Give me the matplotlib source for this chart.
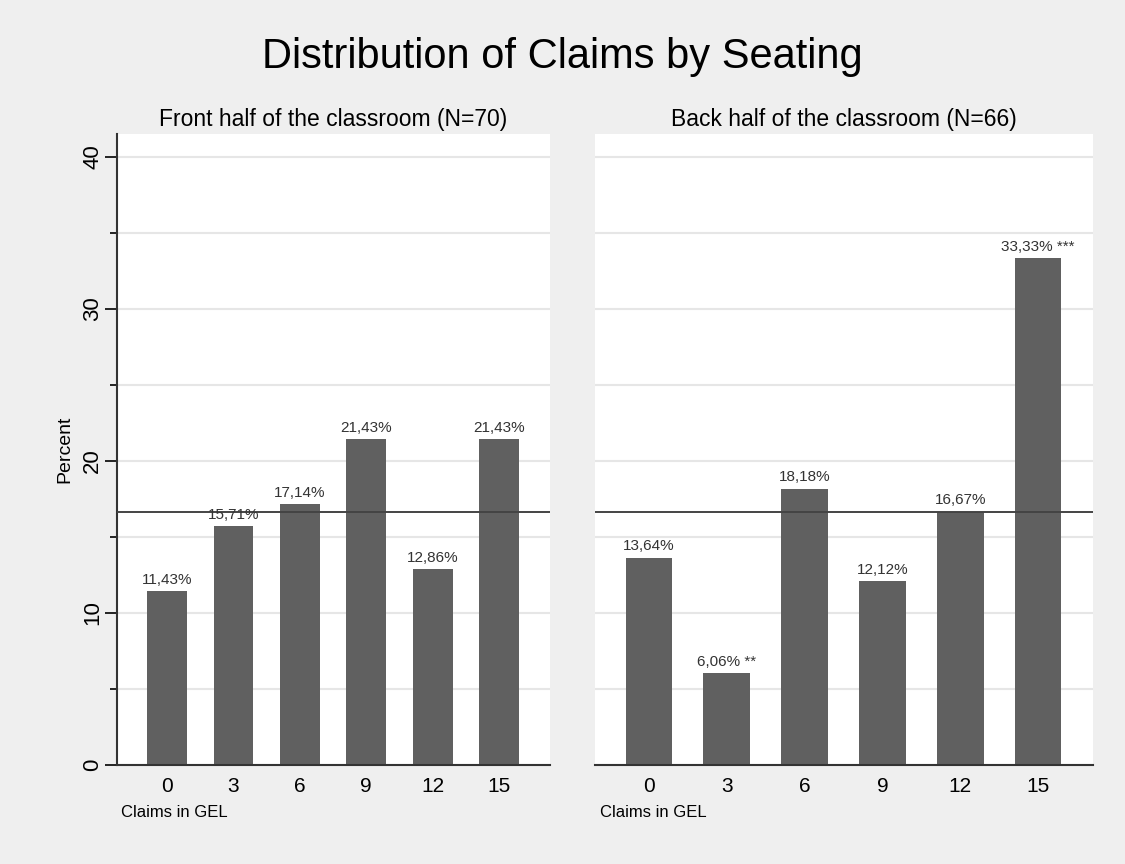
import matplotlib.pyplot as plt
from matplotlib.ticker import MultipleLocator

plt.rcParams["font.family"] = ["Liberation Sans", "DejaVu Sans"]

claims = [0, 3, 6, 9, 12, 15]
front_pct = [11.43, 15.71, 17.14, 21.43, 12.86, 21.43]
back_pct = [13.64, 6.06, 18.18, 12.12, 16.67, 33.33]
back_stars = ["", "**", "", "", "", "***"]
front_title = "Front half of the classroom (N=70)"
back_title = "Back half of the classroom (N=66)"
ref_line = 100 / 6

BG = "#efefef"
BAR = "#606060"

fig = plt.figure(figsize=(11.25, 8.64), dpi=100, facecolor=BG)
ax_l = fig.add_axes([0.104, 0.1146, 0.3849, 0.7303])
ax_r = fig.add_axes([0.5289, 0.1146, 0.4427, 0.7303])

panels = [
    (ax_l, front_pct, [""] * 6, front_title, (-2.26, 17.3)),
    (ax_r, back_pct, back_stars, back_title, (-2.08, 17.12)),
]

for ax, vals, stars, title, xlim in panels:
    ax.set_facecolor("white")
    ax.set_xlim(*xlim)
    ax.set_ylim(0, 41.5)
    ax.yaxis.set_major_locator(MultipleLocator(10))
    ax.yaxis.set_minor_locator(MultipleLocator(5))
    ax.grid(True, which="both", axis="y", color="#e6e6e6", linewidth=1.5, zorder=0)
    ax.set_axisbelow(True)
    ax.bar(claims, vals, width=1.8, color=BAR, zorder=2)
    ax.axhline(ref_line, color="#444444", linewidth=1.4, zorder=3)
    for x, v, s in zip(claims, vals, stars):
        lab = f"{v:.2f}".replace(".", ",") + "%"
        if s:
            lab += " " + s
        ax.annotate(lab, (x, v), xytext=(0, 3), textcoords="offset points",
                    ha="center", va="bottom", fontsize=11, color="#333333")
    ax.set_xticks(claims)
    ax.set_xticklabels([str(c) for c in claims], fontsize=15)
    ax.tick_params(axis="x", length=0, pad=9)
    for sp in ["top", "right"]:
        ax.spines[sp].set_visible(False)
    ax.spines["bottom"].set_color("#333333")
    ax.spines["bottom"].set_linewidth(1.5)
    ax.set_title(title, fontsize=16.5, pad=6)
    ax.text(0.01, -0.076, "Claims in GEL", transform=ax.transAxes,
            fontsize=12, ha="left", va="center")

ax_l.spines["left"].set_color("#333333")
ax_l.spines["left"].set_linewidth(1.5)
ax_l.tick_params(axis="y", which="major", length=9, width=1.2, labelsize=16, pad=1)
ax_l.tick_params(axis="y", which="minor", length=5, width=1.2)
for t in ax_l.get_yticklabels():
    t.set_rotation(90)
    t.set_va("center")
ax_l.set_ylabel("Percent", fontsize=14, labelpad=6)

ax_r.spines["left"].set_visible(False)
ax_r.tick_params(axis="y", which="both", length=0, labelleft=False)

fig.suptitle("Distribution of Claims by Seating", fontsize=30, y=0.934, va="center")

fig.savefig("out.png", dpi=100, facecolor=BG)
